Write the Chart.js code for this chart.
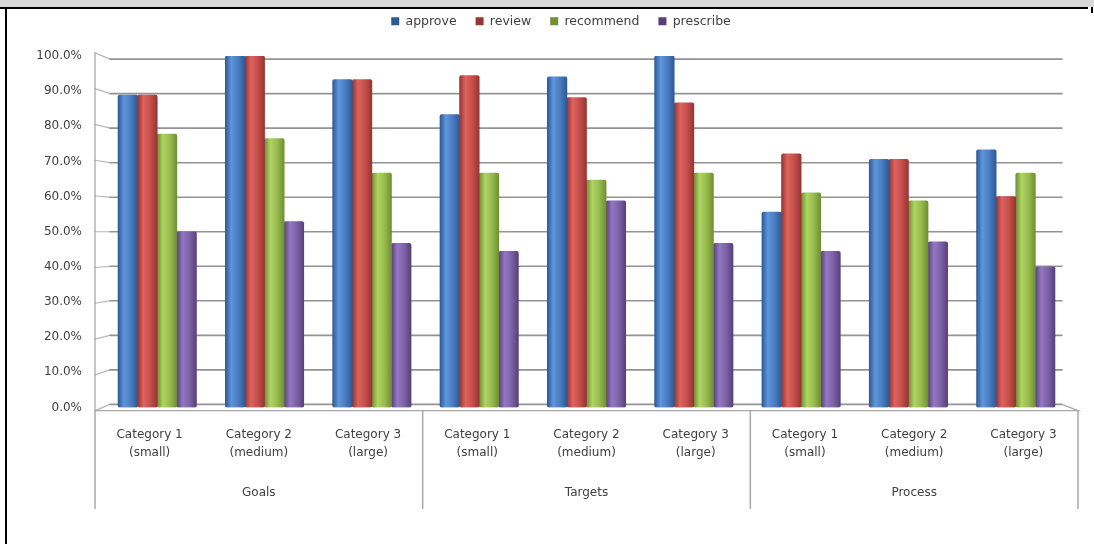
<!DOCTYPE html>
<html>
<head>
<meta charset="utf-8">
<title>approve / review / recommend / prescribe</title>
<script src="https://cdn.jsdelivr.net/npm/chart.js@4/dist/chart.umd.min.js"></script>
<style>
  html, body { margin: 0; padding: 0; background: #fff; }
  #wrap { position: relative; width: 1094px; height: 544px; overflow: hidden; }
  #chart { position: absolute; left: 0; top: 0; }
  .frame { position: absolute; }
</style>
</head>
<body>
<div id="wrap">
  <canvas id="chart" width="1094" height="544"></canvas>
  <div class="frame" style="left:0;top:0;width:1094px;height:7px;background:#d9d9d9"></div>
  <div class="frame" style="left:0;top:7px;width:1088px;height:2px;background:#000"></div>
  <div class="frame" style="left:5px;top:7px;width:2px;height:537px;background:#000"></div>
  <div class="frame" style="left:1091px;top:7px;width:2px;height:6px;background:#000"></div>
</div>
<script>
// Sub-categories shown under each group, and the groups themselves
const categories = [['Category 1', '(small)'], ['Category 2', '(medium)'], ['Category 3', '(large)']];
const groups = ['Goals', 'Targets', 'Process'];
const seriesNames = ['approve', 'review', 'recommend', 'prescribe'];

// Percentages, in order Goals 1..3, Targets 1..3, Process 1..3
const approve   = [88.9, 100.0, 93.3, 83.3, 94.1, 100.0, 55.6, 70.6, 73.3];
const review    = [88.9, 100.0, 93.3, 94.4, 88.2, 86.7, 72.2, 70.6, 60.0];
const recommend = [77.8, 76.5, 66.7, 66.7, 64.7, 66.7, 61.1, 58.8, 66.7];
const prescribe = [50.0, 52.9, 46.7, 44.4, 58.8, 46.7, 44.4, 47.1, 40.0];

const yMax = 100;
const yStep = 10;

const labels = groups.flatMap(() => categories);

const palette = [
  { base: '#4a7cc0', light: '#5e95dc', dark: '#2d5a94' },
  { base: '#c54f4b', light: '#de625e', dark: '#963532' },
  { base: '#98bb4e', light: '#afd462', dark: '#6f8f34' },
  { base: '#7d61a6', light: '#9477c2', dark: '#574179' }
];

// Horizontal shading so each bar reads as a cylinder
function cylinder(c) {
  return (context) => {
    const el = context.element;
    if (!el || !Number.isFinite(el.x) || !Number.isFinite(el.width)) return c.base;
    const g = context.chart.ctx.createLinearGradient(el.x - el.width / 2, 0, el.x + el.width / 2, 0);
    g.addColorStop(0, c.dark);
    g.addColorStop(0.3, c.light);
    g.addColorStop(0.65, c.base);
    g.addColorStop(1, c.dark);
    return g;
  };
}

const seriesValues = [approve, review, recommend, prescribe];
const datasets = seriesNames.map((name, s) => ({
  label: name,
  data: seriesValues[s].map((v, i) => ({ x: i, y: v })),
  xAxisID: 'xb',
  yAxisID: 'y',
  backgroundColor: cylinder(palette[s]),
  borderWidth: 0,
  borderRadius: 2,
  borderSkipped: false,
  barThickness: 19.6
}));

// Leaves room between the legend row and the plot, and centres the row over the plot
const legendSpacing = {
  id: 'legendSpacing',
  beforeInit(chart) {
    const fit = chart.legend.fit;
    chart.legend.fit = function () {
      fit.call(this);
      this.height = 60;
    };
  },
  afterLayout(chart) {
    chart.legend.left = 44;
  }
};

// Back wall with gridlines, floor, and the group separators under the axis
const wallGrid = {
  id: 'wallGrid',
  beforeDatasetsDraw(chart) {
    const { ctx, scales } = chart;
    const x = scales.x, y = scales.y, x2 = scales.x2;
    const n = x.getLabels().length;
    const left = x.getPixelForValue(-0.5);
    const right = x.getPixelForValue(n - 0.5);
    const top = y.getPixelForValue(y.max), bottom = y.getPixelForValue(y.min);
    const cy = (top + bottom) / 2;
    const front = (p) => cy + (p - cy) * 1.0175;
    const back = (p) => cy + (p - cy) * 0.9825;
    const bl = left + 15, br = right - 16;

    ctx.save();
    ctx.lineCap = 'round';
    y.ticks.forEach((t) => {
      const p = y.getPixelForValue(t.value);
      ctx.strokeStyle = '#b8b8b8';
      ctx.lineWidth = 1.2;
      ctx.beginPath();
      ctx.moveTo(left, front(p));
      ctx.lineTo(bl, back(p));
      ctx.stroke();
      ctx.strokeStyle = '#939393';
      ctx.lineWidth = 1.6;
      ctx.beginPath();
      ctx.moveTo(bl, back(p));
      ctx.lineTo(br, back(p));
      ctx.stroke();
    });

    // floor outline and left axis
    ctx.strokeStyle = '#a8a8a8';
    ctx.lineWidth = 1.3;
    ctx.beginPath();
    ctx.moveTo(br, back(bottom));
    ctx.lineTo(right, front(bottom));
    ctx.lineTo(left, front(bottom));
    ctx.lineTo(left, front(top));
    ctx.stroke();

    // separators between the three groups
    const per = n / groups.length;
    ctx.strokeStyle = '#a8a8a8';
    ctx.lineWidth = 1.5;
    for (let g = 0; g <= groups.length; g++) {
      const px = x.getPixelForValue(g * per - 0.5);
      ctx.beginPath();
      ctx.moveTo(px, front(bottom));
      ctx.lineTo(px, x2.bottom + 4);
      ctx.stroke();
    }
    ctx.restore();
  }
};

Chart.defaults.font.family = "'DejaVu Sans', 'Liberation Sans', sans-serif";
Chart.defaults.font.size = 12;
Chart.defaults.color = '#404040';

const chart = new Chart(document.getElementById('chart'), {
  type: 'bar',
  data: { labels, datasets },
  options: {
    responsive: false,
    animation: false,
    events: [],
    layout: { padding: { top: -4, left: 0, right: 16, bottom: 39.5 } },
    plugins: {
      legend: {
        position: 'top',
        align: 'center',
        labels: {
          boxWidth: 8,
          boxHeight: 8,
          padding: 19,
          color: '#404040',
          font: { size: 12.5 }
        }
      },
      tooltip: { enabled: false }
    },
    scales: {
      xb: {
        type: 'linear',
        display: false,
        min: -0.58,
        max: 8.58,
        offset: false
      },
      x: {
        type: 'category',
        position: 'bottom',
        weight: 0,
        offset: true,
        grid: { display: false, drawTicks: false },
        border: { display: false },
        ticks: {
          autoSkip: false,
          maxRotation: 0,
          padding: 18.5,
          color: '#404040',
          font: { size: 12, lineHeight: 1.5 }
        }
      },
      x2: {
        type: 'category',
        position: 'bottom',
        weight: 1,
        labels: groups,
        offset: true,
        grid: { display: false, drawTicks: false },
        border: { display: false },
        ticks: {
          autoSkip: false,
          maxRotation: 0,
          padding: 3,
          color: '#404040',
          font: { size: 12, lineHeight: 1.5 }
        }
      },
      y: {
        type: 'linear',
        min: 0,
        max: yMax,
        grid: { display: false, drawTicks: false },
        border: { display: false },
        afterFit(scale) { scale.width = 95; },
        ticks: {
          stepSize: yStep,
          padding: 13,
          color: '#404040',
          font: { size: 12 },
          callback: (v) => v.toFixed(1) + '%'
        }
      }
    }
  },
  plugins: [legendSpacing, wallGrid]
});

// second pass so the bar shading can use the laid-out bar geometry
chart.update();
</script>
</body>
</html>
